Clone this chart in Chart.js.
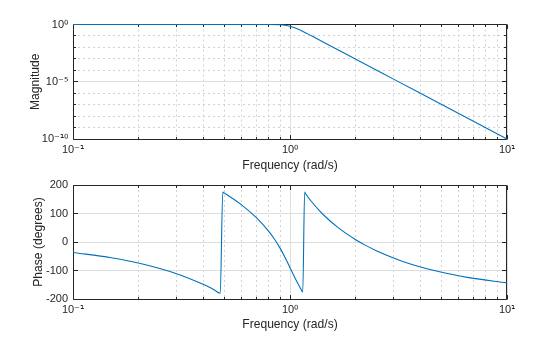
<!DOCTYPE html>
<html><head><meta charset="utf-8">
<script src="https://cdn.jsdelivr.net/npm/chart.js@4.4.1/dist/chart.umd.min.js"></script>
<style>
@font-face { font-family: 'SupDJ'; src: local('DejaVu Sans'), local('DejaVuSans'); unicode-range: U+2070-207F, U+00B2-00B3, U+00B9; }
html,body{margin:0;padding:0;background:#fff;}
#wrap{position:relative;width:560px;height:337px;overflow:hidden;background:#fff;}
canvas{position:absolute;left:0;}
#c1{top:0;}
#c2{top:168px;}
</style></head><body>
<div id="wrap"><canvas id="c1" width="560" height="180"></canvas><canvas id="c2" width="560" height="169"></canvas></div>
<script>
// ---- data ----
const magFreq = [0.1, 0.5, 0.8, 0.9, 0.95, 1.0, 1.05, 1.1, 1.2, 1.3, 1.5, 2, 3, 5, 10];
const magVal  = [1, 1, 0.99428, 0.94425, 0.85797, 0.70711, 0.52319, 0.35973, 0.15944, 0.072348, 0.017339, 9.7656e-4, 1.6935e-5, 1.024e-7, 1e-10];

const phaseFreq = [0.1, 0.15, 0.2, 0.3, 0.4, 0.45, 0.477, 0.49, 0.5, 0.6, 0.7, 0.8, 0.85, 0.9, 0.95, 1.0,
                   1.0526, 1.1111, 1.145, 1.168, 1.1765, 1.25, 1.4286, 1.6667, 2, 2.2222, 2.5, 3.3333, 5, 6.6667, 10];
const phaseVal  = [-36.66, -55.08, -73.59, -111.06, -149.37, -168.99, -179.8, 175.0, 171.02, 129.55, 85.25, 36.21, 8.76, -21.55, -54.96, -90,
                   -125.04, -158.45, -175.6, 175.2, 171.24, 143.79, 94.75, 50.45, 8.98, -11.01, -30.63, -68.94, -106.41, -124.92, -143.34];

const freqTicks = [0.1,0.2,0.3,0.4,0.5,0.6,0.7,0.8,0.9,1,2,3,4,5,6,7,8,9,10];
const freqMajor = [0.1, 1, 10];
const freqTickLabels = ['10\u207B\u00B9', '10\u2070', '10\u00B9'];

const magTicks = [1e-10,1e-9,1e-8,1e-7,1e-6,1e-5,1e-4,1e-3,1e-2,1e-1,1];
const magMajor = [1e-10, 1e-5, 1];
const magTickLabels = ['10\u207B\u00B9\u2070', '10\u207B\u2075', '10\u2070'];

const phaseTicks = [-200, -100, 0, 100, 200];

const xTitle = 'Frequency (rad/s)';
const magTitle = 'Magnitude';
const phaseTitle = 'Phase (degrees)';

// ---- styling ----
const FONT = "'Liberation Sans', Arial, Helvetica, sans-serif";
const TICKFONT = "'SupDJ', 'Liberation Sans', Arial, Helvetica, sans-serif";
const TXT = '#262626';
const LINE = '#0072BD';
const GRID_MAJOR = '#dedede';
const GRID_MINOR = '#d2d2d2';
const MINOR_DASH = [2, 3];

function isIn(arr, v){ return arr.some(a => Math.abs(a - v) <= Math.abs(a)*1e-9); }

const boxPlugin = {
  id: 'box',
  beforeDatasetsDraw(chart, args, opts){
    const {ctx, chartArea:a} = chart;
    ctx.save();
    ctx.strokeStyle = TXT; ctx.lineWidth = 1;
    const L = Math.round(a.left) + 0.5, R = Math.round(a.right) - 0.5,
          T = Math.round(a.top - 0.5) + 0.5, B = Math.round(a.bottom) + 0.5;
    const xs = chart.scales.x, ys = chart.scales.y;
    ctx.beginPath();
    xs.ticks.forEach(t => {
      const len = isIn(freqMajor, t.value) ? 4.5 : 2.5;
      const p = Math.round(xs.getPixelForValue(t.value) - 0.5) + 0.5;
      ctx.moveTo(p, B); ctx.lineTo(p, B - len);
      ctx.moveTo(p, T); ctx.lineTo(p, T + len);
    });
    ys.ticks.forEach(t => {
      const len = opts.yMajor(t.value) ? 4.5 : 2.5;
      const p = Math.round(ys.getPixelForValue(t.value) - 0.5) + 0.5;
      ctx.moveTo(L, p); ctx.lineTo(L + len, p);
      ctx.moveTo(R, p); ctx.lineTo(R - len, p);
    });
    ctx.stroke();
    ctx.beginPath();
    ctx.rect(L, T, R - L, B - T);
    ctx.stroke();
    ctx.restore();
  }
};

function xScale(scaleHeight, titlePadBottom){
  return {
    type: 'logarithmic', min: 0.1, max: 10,
    afterBuildTicks: s => { s.ticks = freqTicks.map(v => ({value: v})); },
    afterFit: s => { s.height = scaleHeight; },
    ticks: {
      autoSkip: false, maxRotation: 0, padding: 4, color: TXT,
      font: {family: TICKFONT, size: 11},
      callback: v => { const i = freqMajor.findIndex(m => Math.abs(m - v) < 1e-9*m); return i >= 0 ? freqTickLabels[i] : ''; }
    },
    grid: {
      drawTicks: false, lineWidth: 1,
      color: c => c.tick ? (isIn(freqMajor, c.tick.value) ? GRID_MAJOR : GRID_MINOR) : 'rgba(0,0,0,0)'
    },
    border: { display: false, dash: c => (c.tick && !isIn(freqMajor, c.tick.value)) ? MINOR_DASH : [] },
    title: { display: true, text: xTitle, color: TXT, font: {family: FONT, size: 12.1}, padding: {top: 0, bottom: titlePadBottom} }
  };
}

function build(){
  const common = {
    responsive: false, animation: false, devicePixelRatio: 1,
    elements: { point: {radius: 0}, line: {tension: 0} }
  };

  // ---- magnitude ----
  new Chart(document.getElementById('c1'), {
    type: 'line',
    data: { datasets: [{ data: magFreq.map((f, i) => ({x: f, y: magVal[i]})), borderColor: LINE, borderWidth: 1.1,
                         fill: false, cubicInterpolationMode: 'monotone', clip: 3 }] },
    options: Object.assign({}, common, {
      layout: { padding: {top: 24.5, right: 53, left: 0, bottom: 0} },
      plugins: { legend: {display: false}, tooltip: {enabled: false}, box: { yMajor: v => isIn(magMajor, v) } },
      scales: {
        x: xScale(41, 6.7),
        y: {
          type: 'logarithmic', min: 1e-10, max: 1,
          afterBuildTicks: s => { s.ticks = magTicks.map(v => ({value: v})); },
          afterFit: s => { s.width = 73; },
          ticks: {
            autoSkip: false, padding: 5, color: TXT, font: {family: TICKFONT, size: 11},
            callback: v => { const i = magMajor.findIndex(m => Math.abs(m - v) < 1e-9*m); return i >= 0 ? magTickLabels[i] : ''; }
          },
          grid: { drawTicks: false, lineWidth: 1,
            color: c => c.tick ? (isIn(magMajor, c.tick.value) ? GRID_MAJOR : GRID_MINOR) : 'rgba(0,0,0,0)' },
          border: { display: false, dash: c => (c.tick && !isIn(magMajor, c.tick.value)) ? MINOR_DASH : [] },
          title: { display: true, text: magTitle, color: TXT, font: {family: FONT, size: 12.1}, padding: {top: 28.7, bottom: 0} }
        }
      }
    }),
    plugins: [boxPlugin]
  });

  // ---- phase ----
  new Chart(document.getElementById('c2'), {
    type: 'line',
    data: { datasets: [{ data: phaseFreq.map((f, i) => ({x: f, y: phaseVal[i]})), borderColor: LINE, borderWidth: 1.1,
                         fill: false, cubicInterpolationMode: 'monotone' }] },
    options: Object.assign({}, common, {
      layout: { padding: {top: 17, right: 53, left: 0, bottom: 0} },
      plugins: { legend: {display: false}, tooltip: {enabled: false}, box: { yMajor: v => true } },
      scales: {
        x: xScale(38, 4.7),
        y: {
          type: 'linear', min: -200, max: 200,
          afterBuildTicks: s => { s.ticks = phaseTicks.map(v => ({value: v})); },
          afterFit: s => { s.width = 73; },
          ticks: { autoSkip: false, padding: 5, color: TXT, font: {family: FONT, size: 11}, callback: v => String(v) },
          grid: { drawTicks: false, lineWidth: 1, color: c => c.tick ? GRID_MAJOR : 'rgba(0,0,0,0)' },
          border: { display: false },
          title: { display: true, text: phaseTitle, color: TXT, font: {family: FONT, size: 12.1}, padding: {top: 31.7, bottom: 0} }
        }
      }
    }),
    plugins: [boxPlugin]
  });
}

const fontReady = (document.fonts && document.fonts.load)
  ? Promise.all([document.fonts.load("11px SupDJ", "\u2070\u00B9\u207B\u2075"), document.fonts.load("11px 'Liberation Sans'", "10")]).catch(() => null)
  : Promise.resolve();
fontReady.then(build, build);
</script>
</body></html>
